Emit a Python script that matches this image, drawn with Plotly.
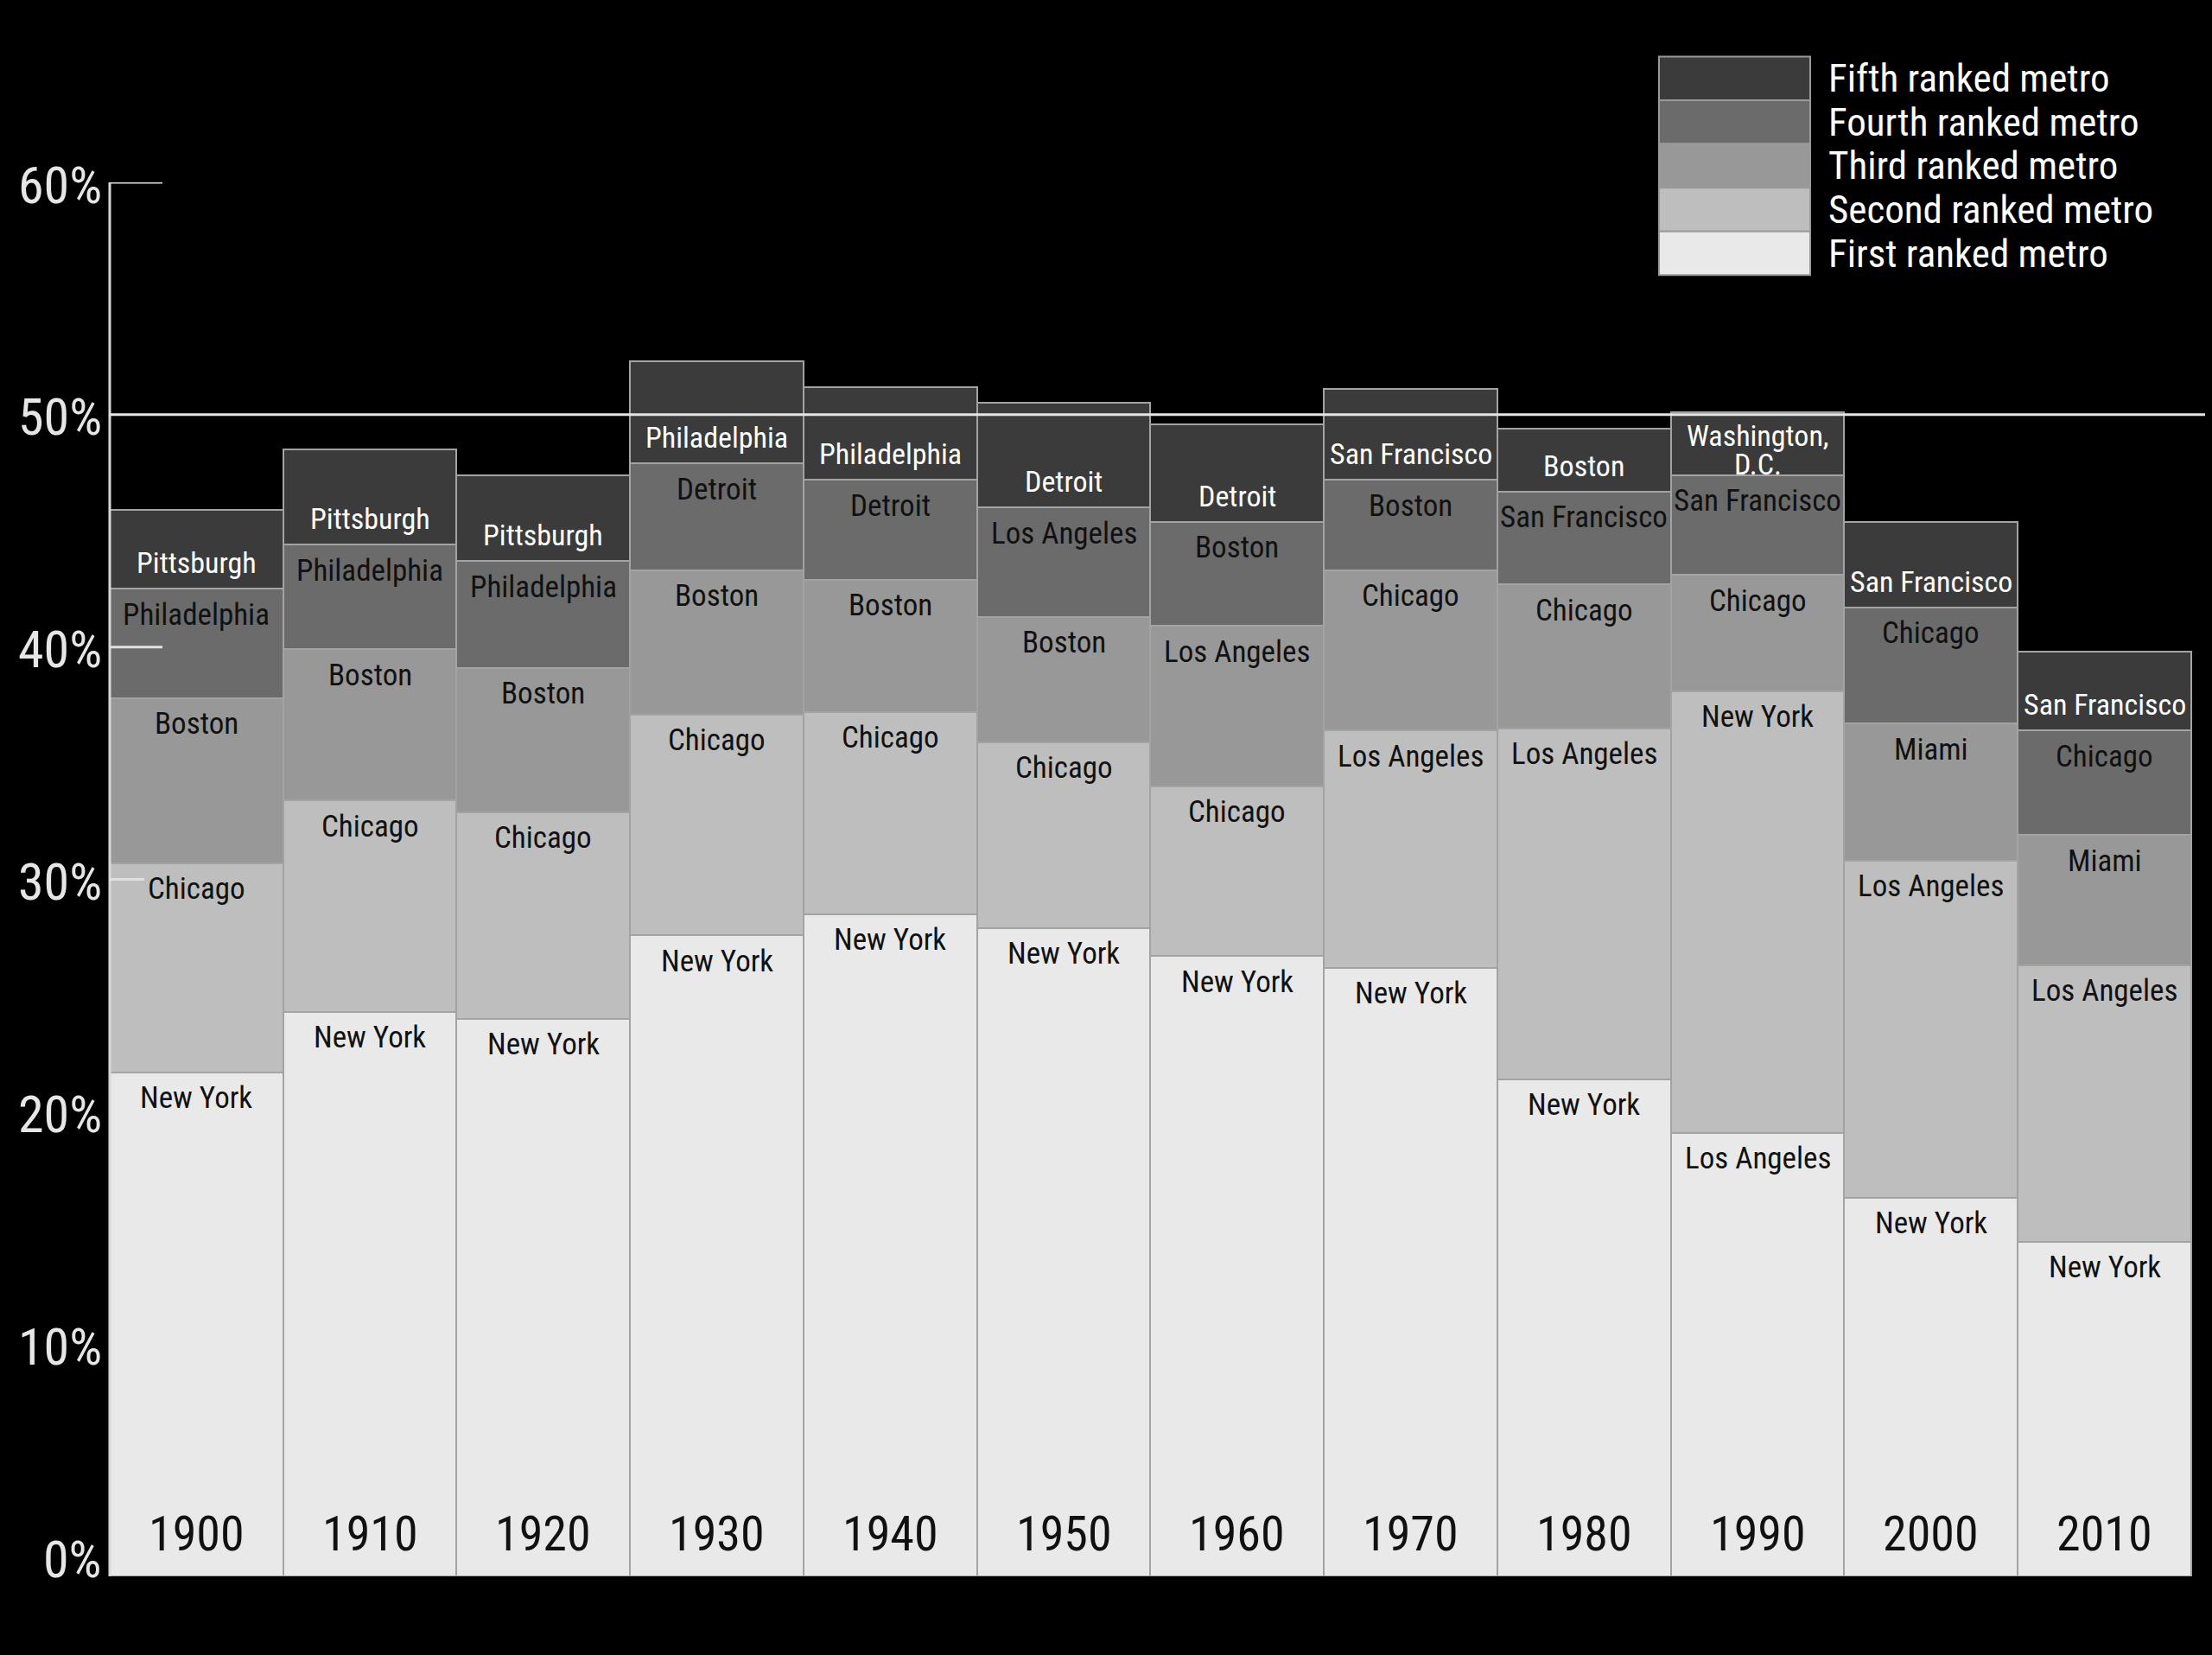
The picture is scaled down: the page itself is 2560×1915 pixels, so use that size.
import plotly.graph_objects as go

# ---------------- data ----------------
years = ["1900", "1910", "1920", "1930", "1940", "1950", "1960", "1970", "1980", "1990", "2000", "2010"]

first_names = ["New York", "New York", "New York", "New York", "New York", "New York", "New York",
               "New York", "New York", "Los Angeles", "New York", "New York"]
first_vals = [21.7, 24.3, 24.0, 27.6, 28.5, 27.9, 26.7, 26.2, 21.4, 19.1, 16.3, 14.4]

second_names = ["Chicago", "Chicago", "Chicago", "Chicago", "Chicago", "Chicago", "Chicago",
                "Los Angeles", "Los Angeles", "New York", "Los Angeles", "Los Angeles"]
second_vals = [9.0, 9.1, 8.9, 9.5, 8.7, 8.0, 7.3, 10.2, 15.1, 19.0, 14.5, 11.9]

third_names = ["Boston", "Boston", "Boston", "Boston", "Boston", "Boston", "Los Angeles",
               "Chicago", "Chicago", "Chicago", "Miami", "Miami"]
third_vals = [7.1, 6.5, 6.2, 6.2, 5.7, 5.4, 6.9, 6.9, 6.2, 5.0, 5.9, 5.6]

fourth_names = ["Philadelphia", "Philadelphia", "Philadelphia", "Detroit", "Detroit", "Los Angeles",
                "Boston", "Boston", "San Francisco", "San Francisco", "Chicago", "Chicago"]
fourth_vals = [4.7, 4.5, 4.6, 4.6, 4.3, 4.7, 4.5, 3.9, 4.0, 4.3, 5.0, 4.5]

fifth_names = ["Pittsburgh", "Pittsburgh", "Pittsburgh", "Philadelphia", "Philadelphia", "Detroit",
               "Detroit", "San Francisco", "Boston", "Washington,<br>D.C.", "San Francisco", "San Francisco"]
fifth_vals = [3.4, 4.1, 3.7, 4.4, 4.0, 4.5, 4.2, 3.9, 2.7, 2.7, 3.7, 3.4]

rank_labels = ["First ranked metro", "Second ranked metro", "Third ranked metro",
               "Fourth ranked metro", "Fifth ranked metro"]
tick_vals = [0, 10, 20, 30, 40, 50, 60]
tick_text = ["0%", "10%", "20%", "30%", "40%", "50%", "60%"]

# ---------------- style ----------------
W, H = 2560, 1915
OFF = 8  # default page body margin
# plot area in page pixels: x 127..2560, y 210.6..1824
ML = 127 - OFF
MT = 210.6 - OFF
MR = OFF
MB = H - (1824 - OFF)
PW = W - ML - MR
PH = H - MT - MB
FONT = "Roboto Condensed, Liberation Sans Narrow, Roboto, sans-serif"
colors = ["#e9e9e9", "#bebebe", "#989898", "#6b6b6b", "#3b3b3b"]
label_colors = ["#111111", "#111111", "#111111", "#111111", "#ffffff"]
edge = "#a3a3a3"


def px_x(p):
    """page pixel x -> paper coordinate"""
    return (p - OFF - ML) / PW


def px_y(p):
    """page pixel y -> paper coordinate"""
    return (H - MB - (p - OFF)) / PH


names = [first_names, second_names, third_names, fourth_names, fifth_names]
vals = [first_vals, second_vals, third_vals, fourth_vals, fifth_vals]

fig = go.Figure()
for r in range(5):
    fig.add_trace(go.Bar(
        x=years, y=vals[r], name=rank_labels[r],
        marker=dict(color=colors[r], line=dict(color=edge, width=2)),
        width=1.0, showlegend=False, hoverinfo="skip",
    ))

annotations = []
# segment labels
for i, yr in enumerate(years):
    cum = 0.0
    for r in range(5):
        bottom = cum
        top = cum + vals[r][i]
        cum = top
        lines = names[r][i].split("<br>")
        if r < 4:
            for k, ln in enumerate(lines):
                annotations.append(dict(x=i, y=top, xref="x", yref="y", text=ln, showarrow=False,
                                        yanchor="middle", yshift=-30 - 31 * k,
                                        font=dict(family=FONT, size=35, color=label_colors[r])))
        else:
            n = len(lines)
            base = 30 if n == 1 else 13
            for k, ln in enumerate(lines):
                annotations.append(dict(x=i, y=bottom, xref="x", yref="y", text=ln, showarrow=False,
                                        yanchor="middle", yshift=base + 33 * (n - 1 - k),
                                        font=dict(family=FONT, size=34, color=label_colors[r])))
    # year label
    annotations.append(dict(x=i, y=0, xref="x", yref="y", text=yr, showarrow=False,
                            yanchor="middle", yshift=49,
                            font=dict(family=FONT, size=56, color="#111111")))

# y tick labels
for v, t in zip(tick_vals, tick_text):
    annotations.append(dict(x=0, y=v, xref="paper", yref="y", text=t, showarrow=False,
                            xanchor="right", yanchor="middle", xshift=-7,
                            yshift=20 if v == 0 else -3,
                            font=dict(family=FONT, size=60, color="#e6e6e6")))

shapes = []
# axis line and ticks
shapes.append(dict(type="line", xref="paper", yref="y", x0=0, x1=0, y0=0, y1=60,
                   line=dict(color="#d8d8d8", width=3), layer="above"))
for v, length in [(60, 61), (40, 61), (30, 40)]:
    shapes.append(dict(type="line", xref="paper", yref="y", x0=0, x1=length / PW, y0=v, y1=v,
                       line=dict(color="#e0e0e0", width=3), layer="above"))
shapes.append(dict(type="line", xref="paper", yref="y", x0=0, x1=1, y0=50, y1=50,
                   line=dict(color="#e6e6e6", width=3), layer="above"))

# legend (manual), page pixel positions
box_top, box_h = 65, 50.6
for j, r in enumerate([4, 3, 2, 1, 0]):
    y0 = box_top + j * box_h
    y1 = y0 + box_h
    shapes.append(dict(type="rect", xref="paper", yref="paper",
                       x0=px_x(1920), x1=px_x(2095), y0=px_y(y1), y1=px_y(y0),
                       fillcolor=colors[r], line=dict(color="#9a9a9a", width=2)))
    annotations.append(dict(x=px_x(2114), y=px_y((y0 + y1) / 2), xref="paper", yref="paper",
                            text=rank_labels[r], showarrow=False, xanchor="left", yanchor="middle",
                            font=dict(family=FONT, size=45, color="#ffffff")))

fig.update_layout(
    width=W, height=H,
    margin=dict(l=ML, r=MR, t=MT, b=MB, pad=0),
    paper_bgcolor="black", plot_bgcolor="black",
    barmode="stack", bargap=0,
    xaxis=dict(type="category", range=[-0.5, 11.62], showticklabels=False, showgrid=False,
               zeroline=False, showline=False, ticks="", fixedrange=True),
    yaxis=dict(range=[0, 60], showticklabels=False, showgrid=False, zeroline=False,
               showline=False, ticks="", fixedrange=True),
    annotations=annotations, shapes=shapes,
    showlegend=False,
)

fig.write_html(
    "out.html",
    post_script="document.body.style.background='black';"
                "document.documentElement.style.background='black';"
                "document.body.style.overflow='hidden';",
)
